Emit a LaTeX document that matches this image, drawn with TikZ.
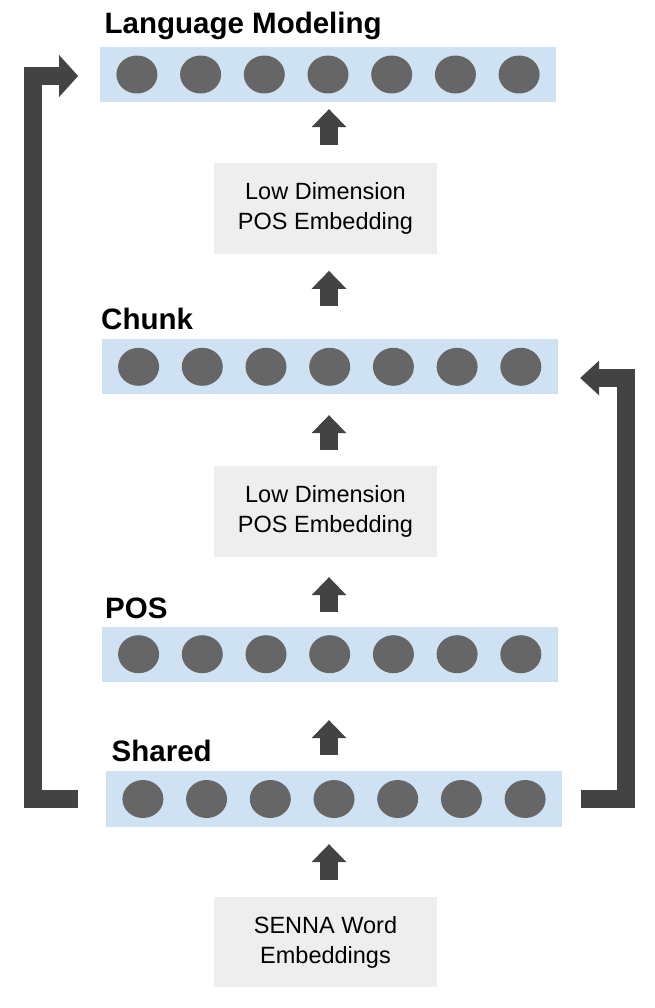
\documentclass[tikz,border=0pt]{standalone}
\usepackage{fontspec}
\setmainfont{Liberation Sans}
\usetikzlibrary{arrows.meta,shapes.geometric,positioning}

\definecolor{barblue}{HTML}{CFE2F3}
\definecolor{unitgray}{HTML}{666666}
\definecolor{boxgray}{HTML}{EEEEEE}
\definecolor{arrowgray}{HTML}{434343}

\begin{document}
\begin{tikzpicture}[x=1pt,y=-1pt,
  layer/.style={fill=barblue,minimum width=456pt,minimum height=55pt,inner sep=0pt},
  unit/.style={ellipse,fill=unitgray,minimum width=41pt,minimum height=38pt,inner sep=0pt},
  embbox/.style={fill=boxgray,minimum width=223pt,minimum height=91pt,align=center,
                 font=\fontsize{23.5}{30}\selectfont,
                 execute at begin node=\rule{0pt}{28pt}},
  title/.style={anchor=base west,inner sep=0pt,font=\fontsize{29.5}{34}\selectfont\bfseries},
  lift/.style 2 args={draw=arrowgray,line width=18pt,
                      -{Triangle[width=35pt,length=18pt,line width=0pt]},
                      shorten <=#1,shorten >=#2},
  bypass/.style={draw=arrowgray,line width=18pt,line join=miter}]

\useasboundingbox (0,0) rectangle (654,1008);

% layers
\node[layer] (lm) at (328,74.5) {};
\node[layer] (chunk) at (329.7,366.8) {};
\node[layer] (pos) at (329.7,654.2) {};
\node[layer,minimum height=56pt] (shared) at (334,799) {};

\foreach \b in {lm,chunk,pos,shared}
  \foreach \k in {1,...,7}
    \node[unit] (\b-\k) at ([xshift={(\k-4)*63.7}]\b.center) {};

\node[title] (lmlabel) at (104.5,34) {Language Modeling};
\node[title] (chunklabel) at (101,329.3) {Chunk};
\node[title] (poslabel) at (105,618.3) {POS};
\node[title] (sharedlabel) at (111.5,761.7) {Shared};

% embeddings
\node[embbox] (emb1) at (325.5,208.5) {Low Dimension\\POS Embedding};
\node[embbox] (emb2) at (325.5,511.5) {Low Dimension\\POS Embedding};
\node[embbox,minimum height=90pt] (senna) at (325.5,942) {SENNA Word\\Embeddings};

% arrows
\coordinate (axis) at (329,0);
\draw[lift={18pt}{7pt}] (emb1.north -| axis) -- (lm.south -| axis);
\draw[lift={33.3pt}{16.7pt}] (chunk.north -| axis) -- (emb1.south -| axis);
\draw[lift={16pt}{20.7pt}] (emb2.north -| axis) -- (chunk.south -| axis);
\draw[lift={14.7pt}{20pt}] (pos.north -| axis) -- (emb2.south -| axis);
\draw[lift={16pt}{38.3pt}] (shared.north -| axis) -- (pos.south -| axis);
\draw[lift={17pt}{17pt}] (senna.north -| axis) -- (shared.south -| axis);

\coordinate (lstart) at ([xshift=-27.7pt]shared.west);
\coordinate (lend) at ([xshift=-21.7pt,yshift=-1.5pt]lm.west);
\draw[bypass,-{Triangle[width=42pt,length=19pt,line width=0pt]}]
  (lstart) -| ([xshift=-44.8pt]lend) -- (lend);

\coordinate (rstart) at ([xshift=18.5pt]shared.east);
\coordinate (rend) at ([xshift=22.3pt,yshift=-11.2pt]chunk.east);
\draw[bypass,-{Triangle[width=35pt,length=19pt,line width=0pt]}]
  (rstart) -| ([xshift=45.5pt]rend) -- (rend);

\end{tikzpicture}
\end{document}
